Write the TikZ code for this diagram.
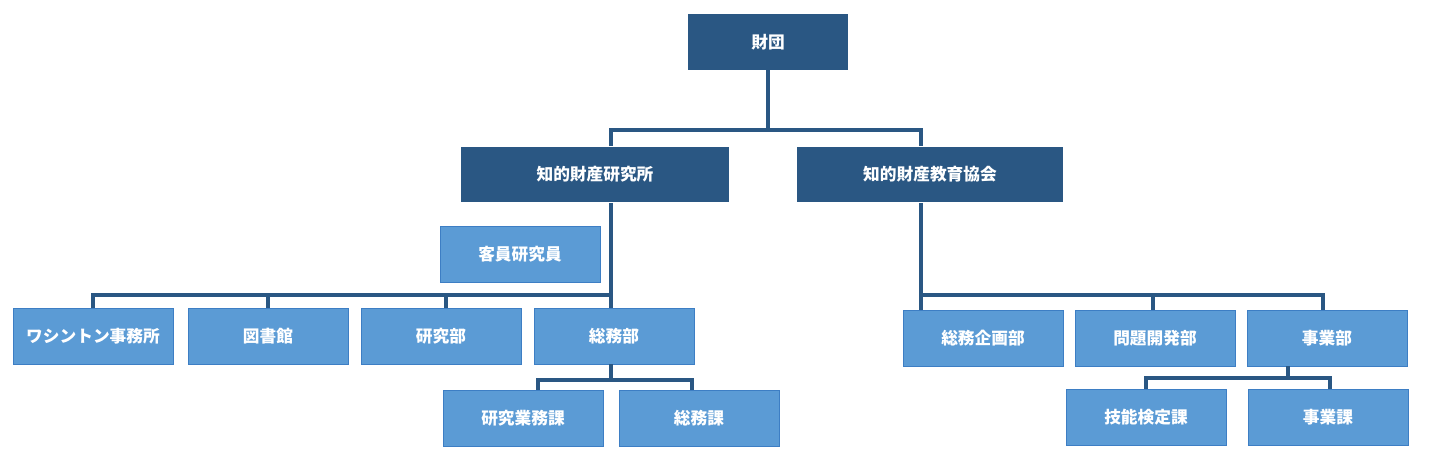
\documentclass[tikz,border=0pt]{standalone}
\usepackage{fontspec}
\setmainfont{Noto Sans CJK JP}
\definecolor{darkbox}{HTML}{2A5783}
\definecolor{lightbox}{HTML}{5B9BD5}
\definecolor{lightedge}{HTML}{3D7EC4}
\tikzset{
  org/.style={minimum width=3.2cm,minimum height=1.12cm,inner sep=0pt,
    text=white,font=\bfseries\fontsize{9.5}{11}\selectfont},
  head/.style={org,fill=darkbox},
  unit/.style={org,fill=lightbox,draw=lightedge,line width=.5pt},
  link/.style={draw=darkbox,line width=2.8pt},
}
\begin{document}
\begin{tikzpicture}[x=0.02cm,y=-0.02cm]
  \useasboundingbox (0,0) rectangle (1443,456);
  % top levels
  \node[head] (zaidan) at (768,42) {財団};
  \node[head,minimum width=5.36cm] (kenkyusho) at (595,174.5) {知的財産研究所};
  \node[head,minimum width=5.32cm] (kyokai) at (930,174.5) {知的財産教育協会};
  \node[unit] (kyakuin) at (520,254) {客員研究員};
  % left branch
  \node[unit] (washington) at (93,336.5) {ワシントン事務所};
  \node[unit] (tosho) at (268,336) {図書館};
  \node[unit] (kenkyubu) at (441,336) {研究部};
  \node[unit] (somubu) at (614,336) {総務部};
  \node[unit] (gyomuka) at (523,418) {研究業務課};
  \node[unit] (somuka) at (699,418) {総務課};
  % right branch
  \node[unit] (kikaku) at (983,338) {総務企画部};
  \node[unit] (mondai) at (1155,338) {問題開発部};
  \node[unit] (jigyobu) at (1327,338) {事業部};
  \node[unit] (kentei) at (1146,417) {技能検定課};
  \node[unit] (jigyoka) at (1328,417) {事業課};
  % bus points
  \coordinate (topbus) at (768,130);
  \coordinate (leftbus) at (611,295);
  \coordinate (rightbus) at (921,295);
  \coordinate (somubus) at (611,380);
  \coordinate (jigyobus) at (1288,378);
  % connectors
  \draw[link] (zaidan.south) -- (topbus);
  \draw[link] (kenkyusho.north -| leftbus) |- (topbus) -| (kyokai.north -| rightbus);
  \draw[link] (kenkyusho.south -| leftbus) -- (leftbus);
  \draw[link] (washington.north) |- (leftbus);
  \draw[link] (tosho.north) -- (tosho.north |- leftbus);
  \draw[link] (kenkyubu.north -| 446,0) -- (446,295);
  \draw[link] (somubu.north -| leftbus) -- (leftbus);
  \draw[link] (somubu.south -| somubus) -- (somubus);
  \draw[link] (gyomuka.north -| 538,0) |- (somubus) -| (somuka.north -| 692,0);
  \draw[link] (kyokai.south -| rightbus) -- (kikaku.north -| rightbus);
  \draw[link] (rightbus) -| (jigyobu.north -| 1323,0);
  \draw[link] (mondai.north -| 1153,0) -- (1153,295);
  \draw[link] (jigyobu.south -| jigyobus) -- (jigyobus);
  \draw[link] (kentei.north) |- (jigyobus) -| (jigyoka.north -| 1330,0);
\end{tikzpicture}
\end{document}
